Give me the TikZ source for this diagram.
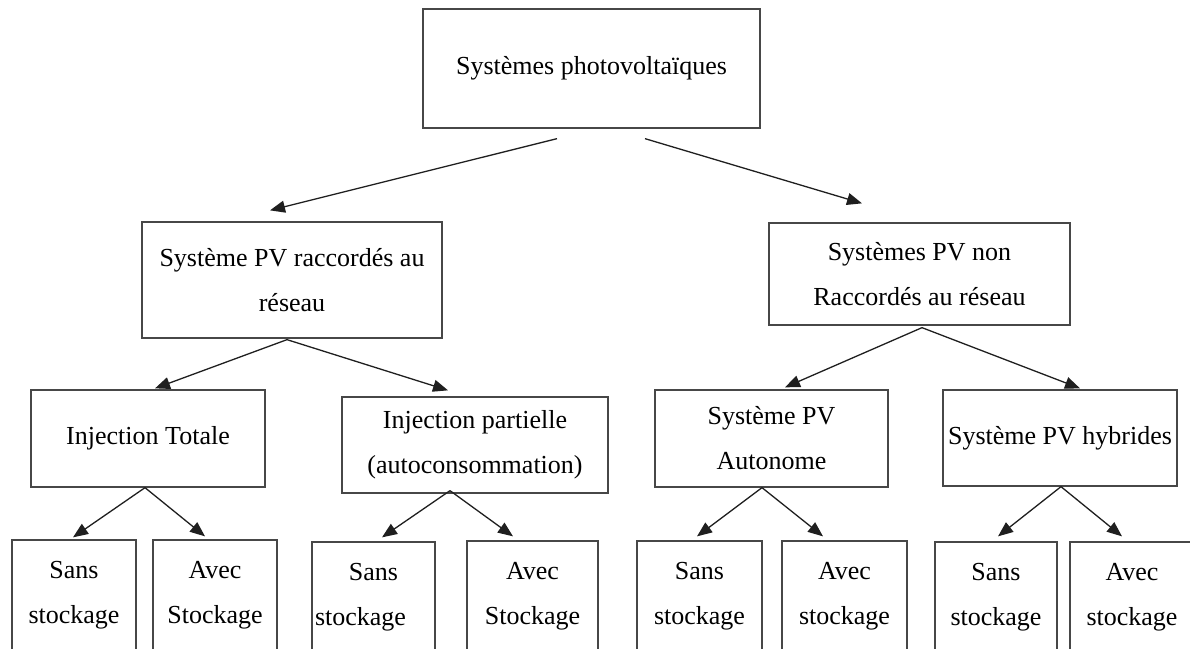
\documentclass[tikz,border=0pt]{standalone}
\usepackage{fontspec}
\setmainfont{Liberation Serif}
\usetikzlibrary{arrows.meta}
\begin{document}
\begin{tikzpicture}[x=1pt,y=-1pt,
  box/.style={draw=black!72,line width=1.3pt,inner sep=0pt,align=center,
    font=\fontsize{26}{45}\selectfont},
  arr/.style={draw=black!88,line width=1.3pt,-{Triangle[length=15pt,width=12pt]}}]
\useasboundingbox (0,0) rectangle (1190,648);
\clip (0,0) rectangle (1190,648);
% level 0
\node[box,minimum width=337pt,minimum height=119pt] (top) at (591.5,68.5) {Systèmes photovoltaïques};
% level 1
\node[box,minimum width=300pt,minimum height=116pt] (b2) at (292,280) {Système PV raccordés au\\réseau};
\node[box,minimum width=301pt,minimum height=102pt] (b3) at (919.5,274) {Systèmes PV non\\Raccordés au réseau};
% level 2
\node[box,minimum width=234pt,minimum height=97pt] (it) at (148,438.5) {Injection Totale};
\node[box,minimum width=266pt,minimum height=96pt] (ip) at (475,445) {Injection partielle\\(autoconsommation)};
\node[box,minimum width=233pt,minimum height=97pt] (au) at (771.5,438.5) {Système PV\\Autonome};
\node[box,minimum width=234pt,minimum height=96pt] (hy) at (1060,438) {Système PV hybrides};
% level 3
\node[box,minimum width=124pt,minimum height=111pt] (s1) at (74,595.5) {Sans\\stockage};
\node[box,minimum width=124pt,minimum height=111pt] (a1) at (215,595.5) {Avec\\Stockage};
\node[box,minimum width=123pt,minimum height=110pt] (s2) at (373.5,597) {Sans\\stockage\hspace*{26pt}};
\node[box,minimum width=131pt,minimum height=110pt] (a2) at (532.5,596) {Avec\\Stockage};
\node[box,minimum width=125pt,minimum height=110pt] (s3) at (699.5,596) {Sans\\stockage};
\node[box,minimum width=125pt,minimum height=110pt] (a3) at (844.5,596) {Avec\\stockage};
\node[box,minimum width=122pt,minimum height=110pt] (s4) at (996,597) {Sans\\stockage};
\node[box,minimum width=124pt,minimum height=110pt] (a4) at (1132,597) {Avec\\stockage};
% connectors
\draw[arr] ([shift={(-34.5,10)}]top.south) -- ([shift={(-22,-11)}]b2.north);
\draw[arr] ([shift={(53.5,10)}]top.south) -- ([shift={(-57.5,-19)}]b3.north);
\draw[arr] ([shift={(-5,1)}]b2.south) -- ([shift={(7,-1)}]it.north);
\draw[arr] ([shift={(-5,1)}]b2.south) -- ([shift={(-27,-6)}]ip.north);
\draw[arr] ([shift={(2.5,2)}]b3.south) -- ([shift={(13.5,-2)}]au.north);
\draw[arr] ([shift={(2.5,2)}]b3.south) -- ([shift={(20,-1)}]hy.north);
\draw[arr] ([shift={(-3,0)}]it.south) -- ([shift={(-1,-2)}]s1.north);
\draw[arr] ([shift={(-3,0)}]it.south) -- ([shift={(-10,-3)}]a1.north);
\draw[arr] ([shift={(-25,-3)}]ip.south) -- ([shift={(8.5,-4)}]s2.north);
\draw[arr] ([shift={(-25,-3)}]ip.south) -- ([shift={(-19.5,-4)}]a2.north);
\draw[arr] ([shift={(-9.5,0)}]au.south) -- ([shift={(-2.5,-4)}]s3.north);
\draw[arr] ([shift={(-9.5,0)}]au.south) -- ([shift={(-21.5,-4)}]a3.north);
\draw[arr] ([shift={(1,0)}]hy.south) -- ([shift={(2,-5)}]s4.north);
\draw[arr] ([shift={(1,0)}]hy.south) -- ([shift={(-10,-5)}]a4.north);
\end{tikzpicture}
\end{document}
